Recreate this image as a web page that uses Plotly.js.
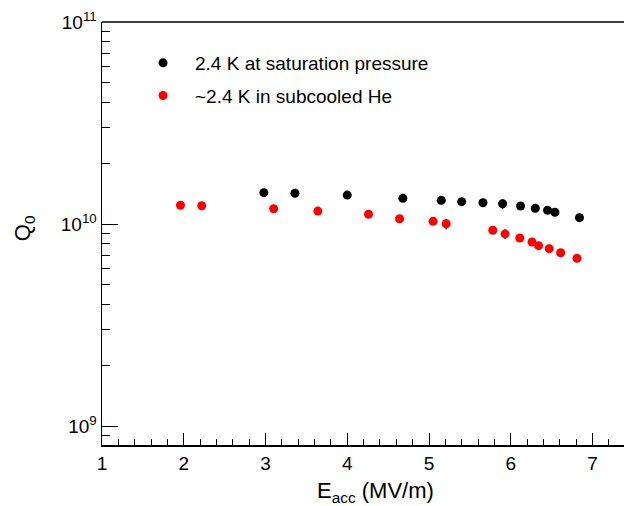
<!DOCTYPE html>
<html>
<head>
<meta charset="utf-8">
<script src="https://cdn.plot.ly/plotly-3.0.1.min.js"></script>
<style>html,body{margin:0;padding:0;background:#fff;}#chart{width:624px;height:506px;}</style>
</head>
<body>
<div id="chart"></div>
<script>
// Saturation pressure series (black)
const satE = [2.98, 3.36, 4.00, 4.68, 5.15, 5.40, 5.66, 5.90, 6.12, 6.30, 6.45, 6.54, 6.84];
const satQ = [1.43e10, 1.42e10, 1.39e10, 1.34e10, 1.31e10, 1.29e10, 1.274e10, 1.26e10, 1.228e10, 1.196e10, 1.17e10, 1.143e10, 1.075e10];
const satErr = [0, 0, 0, 0, 0, 0, 0, 0.07e10, 0, 0, 0, 0, 0];
// Subcooled He series (red)
const subE = [1.96, 2.22, 3.10, 3.64, 4.26, 4.64, 5.05, 5.21, 5.78, 5.93, 6.11, 6.26, 6.34, 6.47, 6.61, 6.81];
const subQ = [1.238e10, 1.232e10, 1.19e10, 1.159e10, 1.117e10, 1.062e10, 1.031e10, 1.003e10, 9.31e9, 8.93e9, 8.53e9, 8.15e9, 7.81e9, 7.55e9, 7.21e9, 6.76e9];
const subErr = [0, 0, 0, 0, 0, 0, 0, 0.06e10, 0, 0.5e9, 0, 0, 0, 0, 0, 0];
// Tick values and labels
const yMajorVals = [1e9, 1e10, 1e11];
const yMajorText = ['10<sup>9</sup>', '10<sup>10</sup>', '10<sup>11</sup>'];
const yMinorVals = [8e8, 9e8, 2e9, 3e9, 4e9, 5e9, 6e9, 7e9, 8e9, 9e9, 2e10, 3e10, 4e10, 5e10, 6e10, 7e10, 8e10, 9e10];
const seriesNames = ['2.4 K at saturation pressure', '~2.4 K in subcooled He'];
const xTitle = 'E<sub>acc</sub> (MV/m)';
const yTitle = 'Q<sub>0</sub>';

const font = 'Liberation Sans, Arial, sans-serif';
const yRange = [8.906, 11];

const traces = [
  {
    x: satE, y: satQ, type: 'scatter', mode: 'markers', name: seriesNames[0],
    legendgroup: 'a', xaxis: 'x', yaxis: 'y',
    marker: {color: '#000000', size: 9},
    error_y: {type: 'data', array: satErr, visible: true, color: '#000000', thickness: 1.5, width: 0}
  },
  {
    x: subE, y: subQ, type: 'scatter', mode: 'markers', name: seriesNames[1],
    legendgroup: 'b', xaxis: 'x', yaxis: 'y2',
    marker: {color: '#ff0000', size: 9},
    error_y: {type: 'data', array: subErr, visible: true, color: '#000000', thickness: 1.5, width: 0}
  }
];

const layout = {
  width: 624, height: 506,
  margin: {l: 102, r: 0, t: 22, b: 61},
  paper_bgcolor: '#ffffff', plot_bgcolor: '#ffffff',
  font: {family: font, color: '#000000', size: 18},
  showlegend: true,
  legend: {
    x: 0.0556, y: 0.948, xanchor: 'left', yanchor: 'top',
    bgcolor: 'rgba(0,0,0,0)', borderwidth: 0,
    font: {family: font, size: 19, color: '#000000'},
    itemwidth: 54, tracegroupgap: 5, traceorder: 'grouped'
  },
  xaxis: {
    type: 'linear', range: [1, 7.385],
    showgrid: false, zeroline: false,
    showline: true, linecolor: '#000000', linewidth: 2,
    ticks: 'inside', ticklen: 12, tickwidth: 1, tickcolor: '#000000',
    dtick: 1, tick0: 0,
    minor: {ticks: 'inside', ticklen: 6, tickwidth: 1, tickcolor: '#000000', dtick: 0.2, showgrid: false},
    tickfont: {family: font, size: 19, color: '#000000'}
  },
  yaxis: {
    type: 'log', range: yRange,
    showgrid: false, zeroline: false,
    showline: true, linecolor: '#000000', linewidth: 1.5,
    ticks: 'inside', ticklen: 16, tickwidth: 1, tickcolor: '#000000',
    tickmode: 'array', tickvals: yMajorVals, ticktext: yMajorText,
    tickfont: {family: font, size: 19, color: '#000000'}
  },
  yaxis2: {
    type: 'log', range: yRange, overlaying: 'y', side: 'left', anchor: 'x',
    showgrid: false, zeroline: false, showline: false,
    ticks: 'inside', ticklen: 8, tickwidth: 1.2, tickcolor: '#000000',
    tickmode: 'array', tickvals: yMinorVals, ticktext: yMinorVals.map(() => ''), showticklabels: true
  },
  annotations: [
    {text: xTitle, xref: 'paper', yref: 'paper', x: 0.523, y: -0.112, xanchor: 'center', yanchor: 'middle',
     showarrow: false, font: {family: font, size: 22, color: '#000000'}},
    {text: yTitle, xref: 'paper', yref: 'paper', x: -0.149, y: 0.513, xanchor: 'center', yanchor: 'middle',
     textangle: -90, showarrow: false, font: {family: font, size: 22, color: '#000000'}}
  ],
  shapes: [
    {type: 'line', xref: 'paper', yref: 'paper', x0: 0, x1: 1, y0: 1, y1: 1, line: {color: '#000000', width: 1.5}}
  ]
};

Plotly.newPlot('chart', traces, layout, {staticPlot: true, displayModeBar: false});
</script>
</body>
</html>
